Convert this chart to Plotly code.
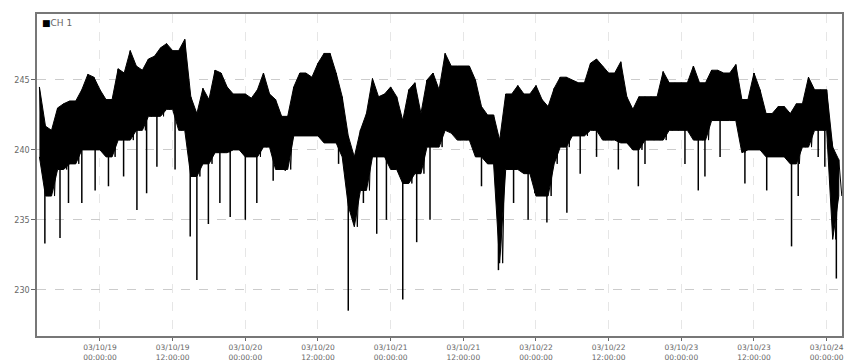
import plotly.graph_objects as go
import pandas as pd
import numpy as np

# ---- data (hourly envelope of CH 1 voltage) ----
start_time = "2003-10-18 14:00"
upper = [244.5, 241.7, 241.4, 243.0, 243.3, 243.5, 243.5, 244.3, 245.4, 245.2,
         244.3, 243.6, 243.6, 245.8, 245.5, 247.1, 246.0, 245.7, 246.5, 246.7,
         247.3, 247.6, 247.1, 247.1, 247.9, 243.8, 242.6, 244.4, 243.6, 245.7,
         245.5, 244.5, 244.0, 244.0,
         244.0, 243.7, 244.3, 245.5, 244.0, 243.6, 242.4, 242.4, 244.5, 245.5,
         245.5, 245.2, 246.2, 246.9, 246.9, 245.5, 243.8, 241.0, 239.5, 241.4,
         242.6, 245.1, 243.8, 244.0, 244.5, 243.8, 242.1, 244.3, 244.8, 242.6,
         245.0, 245.5, 244.3, 246.9,
         246.0, 246.0, 246.0, 246.0, 245.0, 243.1, 242.5, 242.5, 240.7, 244.0,
         244.0, 244.6, 244.0, 244.0, 244.6, 243.6, 243.1, 244.4, 245.2, 245.2,
         245.0, 244.8, 244.8, 246.2, 246.5, 246.0, 245.5, 245.5, 246.3, 243.8,
         242.9, 243.8, 243.8,
         243.8, 243.8, 245.6, 244.8, 244.8, 244.8, 244.8, 246.0, 244.8, 244.8,
         245.7, 245.7, 245.5, 245.5, 246.1, 243.6, 243.6, 245.5, 244.3, 242.6,
         242.6, 243.1, 243.1, 242.6, 243.3, 243.3, 245.2, 244.3, 244.3, 244.3,
         240.2, 239.3]
core_low = [239.5, 236.7, 236.7, 238.6, 238.6, 239.0, 239.0, 240.0, 240.0, 240.0,
            240.0, 239.5, 239.5, 240.7, 240.7, 240.7, 241.4, 241.4, 242.4, 242.4,
            242.4, 242.9, 242.9, 241.4, 241.4, 238.1, 238.1, 239.0, 239.0, 239.8,
            239.8, 239.8, 240.0, 240.0,
            239.5, 239.5, 239.5, 240.2, 240.2, 238.6, 238.6, 238.6, 241.0, 241.0,
            241.0, 241.0, 241.0, 240.5, 240.5, 240.5, 239.5, 236.0, 234.5, 237.1,
            237.1, 239.5, 239.5, 239.5, 238.6, 238.6, 237.6, 237.6, 238.3, 238.3,
            240.2, 240.2, 240.2, 241.4,
            241.2, 240.7, 240.7, 240.7, 239.5, 239.5, 239.0, 239.0, 231.9, 238.6,
            238.6, 238.6, 238.3, 238.3, 236.7, 236.7, 236.7, 239.0, 240.2, 240.2,
            241.0, 241.0, 241.0, 241.4, 241.4, 240.7, 240.7, 240.7, 240.5, 240.5,
            240.0, 240.0, 240.7,
            240.7, 240.7, 240.7, 241.4, 241.4, 241.4, 241.4, 240.7, 240.7, 240.7,
            242.1, 242.1, 242.1, 242.1, 242.1, 239.8, 240.0, 240.0, 240.0, 239.5,
            239.5, 239.5, 239.5, 239.0, 239.0, 240.2, 240.2, 241.4, 241.4, 241.4,
            233.6, 236.7]

# downward spikes: hours after start_time and their minimum value
spike_hours = [0.9, 3.4, 4.8, 7.0, 9.2, 11.4, 13.9, 16.1, 17.7, 19.4, 22.4, 24.9,
               26.0, 27.9, 29.8, 31.5, 34.0, 35.9, 38.6, 40.6, 49.4, 51.0, 53.5,
               55.7, 57.3, 60.0, 62.3, 64.5, 73.0, 75.8, 78.3, 80.7, 81.8, 83.8,
               87.1, 89.3, 92.0, 95.6, 98.9, 100.0, 106.6, 108.8, 109.9, 112.4,
               116.5, 120.1, 124.2, 125.3, 128.6, 129.7, 131.6]
spike_min = [233.3, 233.7, 236.2, 236.2, 237.1, 237.4, 238.1, 235.7, 236.9, 238.8,
             238.6, 233.8, 230.7, 234.7, 236.2, 235.2, 235.0, 236.2, 237.8, 238.5,
             239.0, 228.5, 236.2, 234.0, 235.0, 229.3, 233.4, 235.0, 237.4, 231.4,
             236.2, 235.0, 236.9, 234.8, 235.5, 238.3, 239.5, 238.6, 237.4, 239.0,
             239.0, 237.1, 238.1, 239.5, 237.6, 237.1, 233.1, 236.7, 239.5, 238.8,
             230.8]

y_ticks = [230, 235, 240, 245]
x_tick_times = ["2003-10-19 00:00", "2003-10-19 12:00", "2003-10-20 00:00",
                "2003-10-20 12:00", "2003-10-21 00:00", "2003-10-21 12:00",
                "2003-10-22 00:00", "2003-10-22 12:00", "2003-10-23 00:00",
                "2003-10-23 12:00", "2003-10-24 00:00"]
x_tick_text = ["03/10/19<br>00:00:00", "03/10/19<br>12:00:00", "03/10/20<br>00:00:00",
               "03/10/20<br>12:00:00", "03/10/21<br>00:00:00", "03/10/21<br>12:00:00",
               "03/10/22<br>00:00:00", "03/10/22<br>12:00:00", "03/10/23<br>00:00:00",
               "03/10/23<br>12:00:00", "03/10/24<br>00:00:00"]
x_range = ["2003-10-18 13:36", "2003-10-24 02:32"]
y_range = [226.69, 249.72]

# ---- build figure ----
t0 = pd.Timestamp(start_time)
t = pd.date_range(t0, periods=len(upper), freq="h")
band_x = list(t) + list(t[::-1])
band_y = list(upper) + list(core_low[::-1])

# zigzag trace through the same envelope values (gives the ragged texture)
zx, zy = [], []
for ti, u, lo in zip(t, upper, core_low):
    zx += [ti, ti + pd.Timedelta(minutes=30)]
    zy += [u, lo]

hrs = np.arange(len(upper))
sx, sy = [], []
for h, v in zip(spike_hours, spike_min):
    ts = t0 + pd.Timedelta(hours=h)
    top = float(np.interp(h, hrs, core_low)) + 1.0
    sx += [ts, ts, None]
    sy += [top, v, None]

fig = go.Figure()
fig.add_trace(go.Scatter(x=band_x, y=band_y, fill="toself", fillcolor="#000000",
                         mode="lines", line=dict(color="#000000", width=1),
                         hoverinfo="skip", showlegend=False, name="CH 1"))
fig.add_trace(go.Scatter(x=zx, y=zy, mode="lines",
                         line=dict(color="#000000", width=1),
                         showlegend=False, name="CH 1"))
fig.add_trace(go.Scatter(x=sx, y=sy, mode="lines",
                         line=dict(color="#000000", width=1.5),
                         showlegend=False, name="CH 1"))

x_font = dict(family="DejaVu Sans", size=7.5, color="#666666")
y_font = dict(family="DejaVu Sans", size=8, color="#666666")
# the page body adds an 8px offset, so the figure is sized to fill the rest
fig.update_layout(
    width=844, height=353,
    margin=dict(l=29, r=10, t=6, b=25),
    paper_bgcolor="white", plot_bgcolor="white",
    showlegend=False,
    xaxis=dict(range=x_range, tickvals=x_tick_times, ticktext=x_tick_text,
               tickfont=x_font, ticks="outside", ticklen=3, tickcolor="#666666",
               showgrid=True, gridcolor="#e6e6e6", griddash="dash", gridwidth=1,
               showline=True, linecolor="#777777", linewidth=1.5, mirror=True,
               zeroline=False, automargin=False),
    yaxis=dict(range=y_range, tickvals=y_ticks, tickfont=y_font,
               ticks="outside", ticklen=4, tickcolor="#666666",
               showgrid=True, gridcolor="#cccccc", griddash="dash", gridwidth=1,
               showline=True, linecolor="#777777", linewidth=1.5, mirror=True,
               zeroline=False, automargin=False),
    annotations=[dict(text="<span style='color:#000000'>■</span>CH 1",
                      xref="paper", yref="paper", x=0.004, y=0.995,
                      xanchor="left", yanchor="top", showarrow=False,
                      font=dict(family="DejaVu Sans", size=9, color="#666666"))],
)

fig.write_html("out.html")
